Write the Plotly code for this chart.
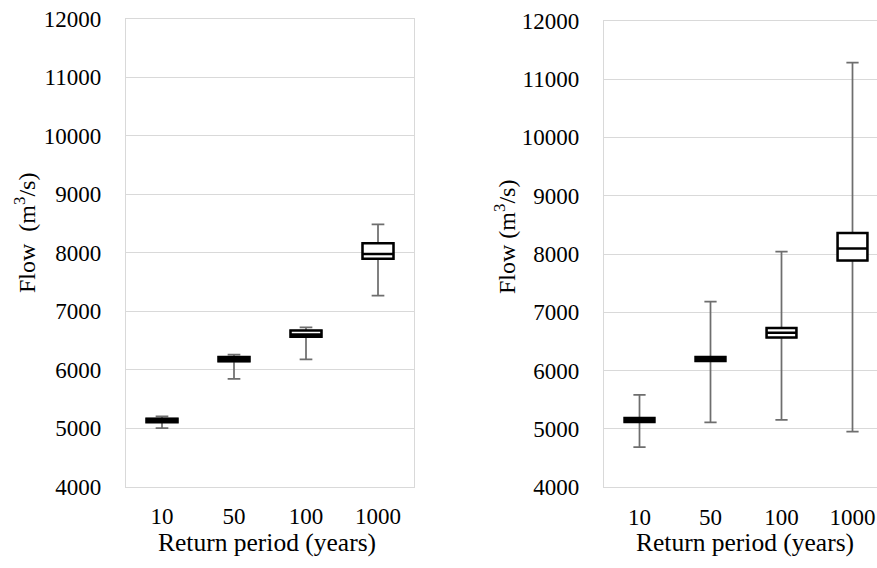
import plotly.graph_objects as go

categories = ["10", "50", "100", "1000"]

# Left panel
left_lower = [5000, 5840, 6175, 7265]
left_q1 = [5100, 6140, 6560, 7893]
left_median = [5130, 6180, 6600, 7975]
left_q3 = [5160, 6215, 6665, 8158]
left_upper = [5200, 6255, 6720, 8480]

# Right panel
right_lower = [4690, 5115, 5155, 4955]
right_q1 = [5120, 6165, 6570, 7890]
right_median = [5155, 6200, 6650, 8095]
right_q3 = [5190, 6235, 6730, 8360]
right_upper = [5585, 7185, 8040, 11280]

y_ticks = [4000, 5000, 6000, 7000, 8000, 9000, 10000, 11000, 12000]

FONT = "Liberation Serif"
GRID = "#d9d9d9"
WHISK = "#6e6e6e"

W, H = 877, 568


def px(x):
    return x / W


def py(y):
    return 1 - y / H


fig = go.Figure()


def add_boxes(xa, ya, lo, q1, med, q3, up, width):
    fig.add_trace(go.Box(
        x=categories, q1=q1, median=med, q3=q3, lowerfence=lo, upperfence=up,
        xaxis=xa, yaxis=ya, width=width, whiskerwidth=0.41,
        line=dict(color=WHISK, width=1.75), fillcolor="white",
        boxpoints=False, showlegend=False, hoverinfo="skip"))
    fig.add_trace(go.Box(
        x=categories, q1=q1, median=med, q3=q3, lowerfence=q1, upperfence=q3,
        xaxis=xa, yaxis=ya, width=width, whiskerwidth=0,
        line=dict(color="black", width=2.5), fillcolor="white",
        boxpoints=False, showlegend=False, hoverinfo="skip"))


add_boxes("x", "y", left_lower, left_q1, left_median, left_q3, left_upper, 0.43)
add_boxes("x2", "y2", right_lower, right_q1, right_median, right_q3, right_upper, 0.42)

axis_common = dict(showline=True, linecolor=GRID, linewidth=1.3, mirror=True,
                   automargin=False, ticklabeloverflow="allow",
                   tickfont=dict(family=FONT, size=23, color="black"))

fig.update_layout(
    width=W, height=H, paper_bgcolor="white", plot_bgcolor="white",
    margin=dict(l=0, r=0, t=0, b=0, autoexpand=False), boxmode="overlay",
    font=dict(family=FONT, color="black"),
    xaxis=dict(domain=[px(126), px(414)], anchor="y", type="category",
               categoryorder="array", categoryarray=categories,
               range=[-0.5, 3.5], showgrid=False, ticks="",
               ticklabelstandoff=9, **axis_common),
    yaxis=dict(domain=[py(486.5), py(18.5)], anchor="x",
               range=[4000, 12000], tickvals=y_ticks, tickformat="d",
               showgrid=True, gridcolor=GRID, gridwidth=1.3, ticks="",
               ticklabelstandoff=19, zeroline=False, **axis_common),
    xaxis2=dict(domain=[px(604), 1.0], anchor="y2", type="category",
                categoryorder="array", categoryarray=categories,
                range=[-0.5, 3.345], showgrid=False, ticks="",
                ticklabelstandoff=9, **axis_common),
    yaxis2=dict(domain=[py(487.3), py(20.7)], anchor="x2",
                range=[4000, 12000], tickvals=y_ticks, tickformat="d",
                showgrid=True, gridcolor=GRID, gridwidth=1.3, ticks="",
                ticklabelstandoff=19, zeroline=False, **axis_common),
)

ann = dict(xref="paper", yref="paper", showarrow=False)
fig.add_annotation(text="Return period (years)", x=px(267), y=py(542),
                   xanchor="center", yanchor="middle",
                   font=dict(family=FONT, size=25.5, color="black"), **ann)
fig.add_annotation(text="Return period (years)", x=px(744.5), y=py(542),
                   xanchor="center", yanchor="middle",
                   font=dict(family=FONT, size=25.5, color="black"), **ann)
fig.add_annotation(text="Flow  (m<sup>3</sup>/s)", x=px(25), y=py(233),
                   textangle=-90, xanchor="center", yanchor="middle",
                   font=dict(family=FONT, size=24, color="black"), **ann)
fig.add_annotation(text="Flow (m<sup>3</sup>/s)", x=px(505), y=py(237),
                   textangle=-90, xanchor="center", yanchor="middle",
                   font=dict(family=FONT, size=24, color="black"), **ann)

fig.write_html("out.html",
               config={"displayModeBar": False},
               post_script="document.body.style.margin='0px';"
                           "document.body.style.overflow='hidden';")
